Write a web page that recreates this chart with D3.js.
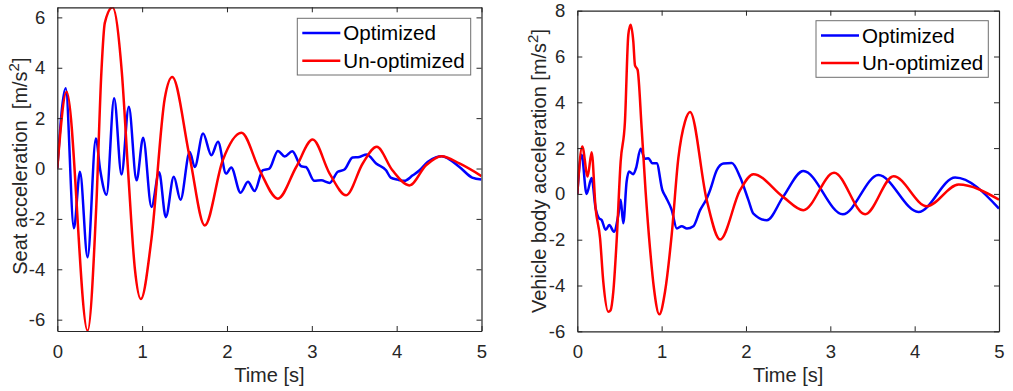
<!DOCTYPE html>
<html>
<head>
<meta charset="utf-8">
<script src="https://cdn.jsdelivr.net/npm/d3@7/dist/d3.min.js"></script>
<style>
  html, body { margin: 0; padding: 0; background: #fff; }
  svg { display: block; font-family: "Liberation Sans", Arial, sans-serif; }
</style>
</head>
<body>
<svg id="chart" width="1013" height="391"></svg>
<script>
// ---------- data ----------
const xTicks = [0, 1, 2, 3, 4, 5];
const seatTicks = [-6, -4, -2, 0, 2, 4, 6];
const bodyTicks = [-6, -4, -2, 0, 2, 4, 6, 8];
const seriesNames = ["Optimized", "Un-optimized"];

// Seat acceleration – optimized
const seatOptT = [0, 0.099, 0.196, 0.267, 0.357, 0.455, 0.505, 0.58, 0.67, 0.757, 0.843, 0.934, 1.012, 1.11, 1.2, 1.279, 1.373, 1.452, 1.561, 1.62, 1.718, 1.816, 1.894, 1.99, 2.05, 2.16, 2.247, 2.326, 2.42, 2.5, 2.6, 2.68, 2.77, 2.875, 2.93, 3.03, 3.11, 3.21, 3.306, 3.385, 3.48, 3.56, 3.647, 3.758, 3.875, 3.93, 4.01, 4.09, 4.19, 4.27, 4.365, 4.46, 4.53, 4.74, 4.89, 5.0];
const seatOptV = [0, 3.19, -2.37, -0.13, -3.52, 1.19, -0.05, -1.04, 2.79, -0.24, 2.45, -0.47, 1.22, -1.53, -0.15, -1.93, -0.33, -1.24, 0.66, 0.06, 1.39, 0.53, 1.06, -0.2, 0.04, -0.96, -0.53, -0.89, -0.07, 0.0, 0.7, 0.48, 0.69, 0.09, 0.06, -0.49, -0.47, -0.57, -0.13, -0.04, 0.44, 0.46, 0.56, 0.2, -0.07, -0.36, -0.44, -0.49, -0.27, -0.07, 0.26, 0.44, 0.49, 0.06, -0.36, -0.44];

// Seat acceleration – un-optimized
const seatUnT = [0, 0.11, 0.357, 0.46, 0.52, 0.56, 0.65, 0.76, 0.835, 0.914, 0.985, 1.11, 1.267, 1.355, 1.56, 1.738, 1.95, 2.17, 2.385, 2.6, 2.816, 3.01, 3.21, 3.405, 3.6, 3.765, 3.95, 4.15, 4.346, 4.53, 4.74, 5.0];
const seatUnV = [0, 3.05, -6.44, -1.46, 3.85, 5.78, 6.40, 3.85, -0.13, -3.97, -5.18, -2.79, 2.79, 3.63, 0.46, -2.26, 0.33, 1.42, -0.07, -1.2, 0.06, 1.15, -0.2, -1.06, 0.2, 0.86, -0.07, -0.67, 0.13, 0.49, 0.2, -0.3];

// Vehicle body acceleration – optimized
const bodyOptT = [0, 0.051, 0.11, 0.17, 0.217, 0.257, 0.289, 0.336, 0.379, 0.435, 0.486, 0.514, 0.545, 0.585, 0.613, 0.664, 0.696, 0.751, 0.802, 0.842, 0.889, 0.941, 1.008, 1.047, 1.119, 1.18, 1.238, 1.3, 1.376, 1.456, 1.535, 1.574, 1.653, 1.732, 1.831, 1.93, 2.03, 2.088, 2.247, 2.44, 2.68, 3.148, 3.57, 4.045, 4.48, 5.0];
const bodyOptV = [0, 1.71, 0.0, 0.69, -0.63, -1.06, -1.14, -1.57, -1.36, -1.65, -0.92, -0.26, -1.28, 0.54, 0.98, 0.86, 1.12, 1.97, 1.53, 1.56, 1.34, 1.34, 0.17, -0.12, -0.7, -1.51, -1.41, -1.51, -1.41, -0.71, -0.2, 0.16, 1.03, 1.33, 1.35, 0.74, -0.28, -0.86, -1.15, -0.13, 1.0, -0.89, 0.82, -0.79, 0.72, -0.64];

// Vehicle body acceleration – un-optimized
const bodyUnT = [0, 0.059, 0.123, 0.17, 0.217, 0.27, 0.308, 0.368, 0.395, 0.427, 0.466, 0.514, 0.565, 0.605, 0.632, 0.664, 0.684, 0.715, 0.763, 0.81, 0.862, 0.909, 0.972, 1.04, 1.119, 1.198, 1.277, 1.337, 1.535, 1.693, 1.93, 2.088, 2.44, 2.68, 3.045, 3.413, 3.75, 4.145, 4.52, 5.0];
const bodyUnV = [0, 2.07, 0.76, 1.82, -0.63, -1.94, -3.83, -5.15, -5.08, -4.27, -2.08, 1.41, 3.16, 6.95, 7.39, 6.66, 5.61, 5.42, 2.87, 0.1, -2.38, -4.13, -5.26, -4.27, -1.79, 1.56, 3.16, 3.58, -0.28, -1.99, 0.16, 0.86, -0.13, -0.71, 0.92, -0.89, 0.77, -0.54, 0.41, -0.25];

// ---------- drawing ----------
const svg = d3.select("#chart");
const axisColor = "#262626";
const colors = ["#0000ff", "#ff0000"];

function zip(t, v) { return t.map((d, i) => ({ t: d, v: v[i] })); }

function panel(cfg) {
  const { x0, x1, y0, y1, yDomain, yTicks, ylabel, series, legend, id } = cfg;
  const x = d3.scaleLinear().domain([0, 5]).range([x0, x1]);
  const y = d3.scaleLinear().domain(yDomain).range([y1, y0]);
  const g = svg.append("g");

  g.append("clipPath").attr("id", id).append("rect")
    .attr("x", x0).attr("y", y0).attr("width", x1 - x0).attr("height", y1 - y0);

  const line = d3.line().x(d => x(d.t)).y(d => y(d.v)).curve(d3.curveMonotoneX);
  series.forEach((s, i) => {
    g.append("path").datum(s)
      .attr("clip-path", `url(#${id})`)
      .attr("fill", "none").attr("stroke", colors[i])
      .attr("stroke-width", 2.5).attr("stroke-linejoin", "round")
      .attr("d", line);
  });

  // axes (box with inward ticks)
  const fs = 18.5;
  const bottom = g.append("g").attr("transform", `translate(0,${y1})`)
    .call(d3.axisBottom(x).tickValues(xTicks).tickSizeInner(-5).tickSizeOuter(0).tickPadding(14).tickFormat(d3.format("d")));
  const top = g.append("g").attr("transform", `translate(0,${y0})`)
    .call(d3.axisTop(x).tickValues(xTicks).tickSizeInner(-5).tickSizeOuter(0).tickFormat(""));
  const left = g.append("g").attr("transform", `translate(${x0},0)`)
    .call(d3.axisLeft(y).tickValues(yTicks).tickSizeInner(-5).tickSizeOuter(0).tickPadding(12).tickFormat(d => String(d)));
  const right = g.append("g").attr("transform", `translate(${x1},0)`)
    .call(d3.axisRight(y).tickValues(yTicks).tickSizeInner(-5).tickSizeOuter(0).tickFormat(""));
  [bottom, top, left, right].forEach(a => {
    a.select(".domain").attr("stroke", axisColor).attr("stroke-width", 1.2);
    a.selectAll(".tick line").attr("stroke", axisColor).attr("stroke-width", 1);
    a.selectAll(".tick text").attr("fill", axisColor).attr("font-size", fs)
      .attr("font-family", '"Liberation Sans", Arial, sans-serif');
  });
  bottom.selectAll(".tick text").attr("dy", "0.71em");

  // x label
  g.append("text").attr("x", (x0 + x1) / 2).attr("y", 381.5)
    .attr("text-anchor", "middle").attr("font-size", 20).attr("fill", axisColor)
    .text("Time [s]");

  // y label
  const yl = g.append("text")
    .attr("transform", `translate(${ylabel.x},${(y0 + y1) / 2 + ylabel.dy}) rotate(-90)`)
    .attr("text-anchor", "middle").attr("font-size", 20).attr("fill", axisColor);
  yl.append("tspan").text(ylabel.text);
  yl.append("tspan").attr("font-size", 15).attr("dy", -8).text("2");
  yl.append("tspan").attr("dy", 8).text("]");

  // legend
  const lg = g.append("g");
  lg.append("rect").attr("x", legend.x).attr("y", legend.y)
    .attr("width", legend.w).attr("height", legend.h)
    .attr("fill", "#fff").attr("stroke", "#6e6e6e").attr("stroke-width", 1);
  seriesNames.forEach((name, i) => {
    const ry = legend.y + 14.7 + i * 27.7;
    lg.append("line").attr("x1", legend.x + 5).attr("x2", legend.x + 43)
      .attr("y1", ry).attr("y2", ry).attr("stroke", colors[i]).attr("stroke-width", 2.5);
    lg.append("text").attr("x", legend.x + 46).attr("y", ry).attr("dy", "0.35em")
      .attr("font-size", 20.6).attr("fill", "#000").text(name);
  });
}

panel({
  id: "clipL", x0: 57.3, x1: 481.5, y0: 7.3, y1: 331,
  yDomain: [-6.45, 6.4], yTicks: seatTicks,
  ylabel: { x: 26.5, dy: -3, text: "Seat acceleration\u00A0\u00A0[m/s" },
  series: [zip(seatOptT, seatOptV), zip(seatUnT, seatUnV)],
  legend: { x: 297.3, y: 18.3, w: 173.4, h: 56.7 }
});

panel({
  id: "clipR", x0: 577.3, x1: 999, y0: 10.7, y1: 331.3,
  yDomain: [-6, 8], yTicks: bodyTicks,
  ylabel: { x: 546, dy: 0, text: "Vehicle body acceleration [m/s" },
  series: [zip(bodyOptT, bodyOptV), zip(bodyUnT, bodyUnV)],
  legend: { x: 816, y: 20.7, w: 172.3, h: 56.6 }
});
</script>
</body>
</html>
